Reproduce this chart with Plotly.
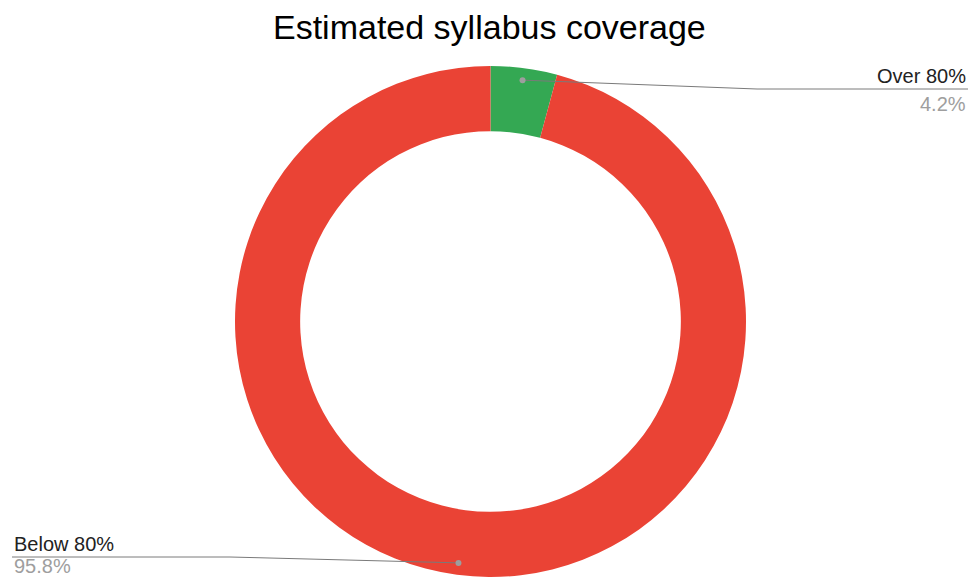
import math
import plotly.graph_objects as go

# Slice data
labels = ["Over 80%", "Below 80%"]
values = [4.2, 95.8]
colors = ["#34A853", "#EA4335"]

W, H = 971, 577
CX, CY = 490.5, 321.5      # donut centre, pixels from top-left
R_OUT = 255.5
HOLE = 0.745


def px(x):
    return x / W


def py(y):
    return 1 - y / H


fig = go.Figure()
fig.add_trace(go.Pie(
    labels=labels,
    values=values,
    sort=False,
    direction="clockwise",
    rotation=0,
    hole=HOLE,
    marker=dict(colors=colors, line=dict(width=0)),
    textinfo="none",
    hoverinfo="label+percent",
    showlegend=False,
    domain=dict(x=[px(CX - R_OUT), px(CX + R_OUT)], y=[0, py(CY - R_OUT)]),
))

# Leader-line anchor points at the middle angle of each slice
total = sum(values)
anchors = []
acc = 0.0
for v in values:
    mid = (acc + v / 2) / total * 2 * math.pi
    acc += v
    r = 0.953 * R_OUT
    anchors.append((CX + r * math.sin(mid), CY - r * math.cos(mid)))

line_col = "#7a7a7a"
dot_col = "#9e9e9e"
shapes = []

# "Over 80%" leader: anchor -> bend -> right edge
(ax0, ay0) = anchors[0]
shapes.append(dict(type="path", xref="paper", yref="paper",
                   path=f"M {px(ax0)},{py(ay0)} L {px(757)},{py(89)} L {px(968)},{py(89)}",
                   line=dict(color=line_col, width=1)))
# "Below 80%" leader: anchor -> bend -> left edge
(ax1, ay1) = anchors[1]
shapes.append(dict(type="path", xref="paper", yref="paper",
                   path=f"M {px(ax1)},{py(ay1)} L {px(230)},{py(557)} L {px(12)},{py(557)}",
                   line=dict(color=line_col, width=1)))
for (ax, ay) in anchors:
    shapes.append(dict(type="circle", xref="paper", yref="paper",
                       x0=px(ax - 3), x1=px(ax + 3), y0=py(ay + 3), y1=py(ay - 3),
                       fillcolor=dot_col, line=dict(width=0)))

font_fam = "Liberation Sans, Arial, sans-serif"
annotations = [
    dict(text="Estimated syllabus coverage", x=px(490), y=py(27), xref="paper", yref="paper",
         xanchor="center", yanchor="middle", showarrow=False,
         font=dict(family=font_fam, size=34, color="#000000")),
    dict(text=labels[0], x=px(968), y=py(76), xref="paper", yref="paper",
         xanchor="right", yanchor="middle", showarrow=False,
         font=dict(family=font_fam, size=20, color="#222222")),
    dict(text=f"{values[0] / total * 100:.1f}%", x=px(968), y=py(104), xref="paper", yref="paper",
         xanchor="right", yanchor="middle", showarrow=False,
         font=dict(family=font_fam, size=20, color="#9e9e9e")),
    dict(text=labels[1], x=px(12), y=py(544), xref="paper", yref="paper",
         xanchor="left", yanchor="middle", showarrow=False,
         font=dict(family=font_fam, size=20, color="#222222")),
    dict(text=f"{values[1] / total * 100:.1f}%", x=px(12), y=py(566), xref="paper", yref="paper",
         xanchor="left", yanchor="middle", showarrow=False,
         font=dict(family=font_fam, size=20, color="#9e9e9e")),
]

fig.update_layout(
    width=W, height=H, autosize=False,
    margin=dict(l=0, r=0, t=0, b=0),
    paper_bgcolor="white", plot_bgcolor="white",
    shapes=shapes, annotations=annotations,
)

fig.write_html("out.html")
